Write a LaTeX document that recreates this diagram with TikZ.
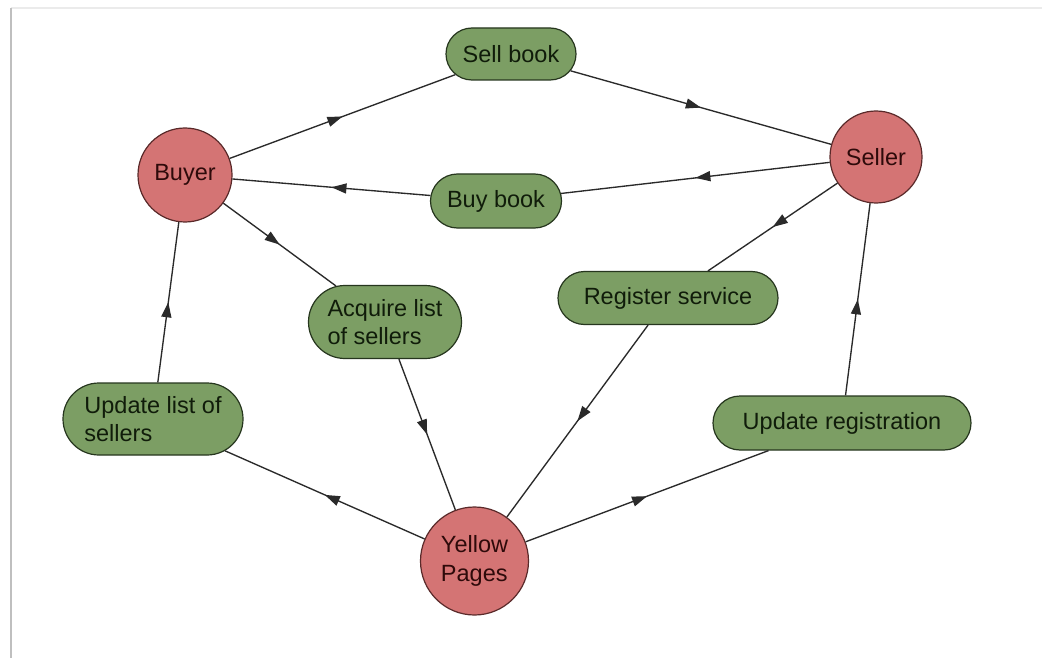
\documentclass[tikz,border=0pt]{standalone}
\usepackage{fontspec}
\setmainfont{Liberation Sans}
\usetikzlibrary{shapes.misc,decorations.markings,arrows.meta}
\definecolor{circfill}{HTML}{D47474}
\definecolor{circline}{HTML}{5A2A2A}
\definecolor{circtext}{HTML}{2E0A0A}
\definecolor{boxfill}{HTML}{7C9E64}
\definecolor{boxline}{HTML}{26361E}
\definecolor{boxtext}{HTML}{101C0A}
\definecolor{edgecol}{HTML}{2A2A2A}
\tikzset{
  actor/.style={circle, draw=circline, fill=circfill, line width=1.2pt, text=circtext,
    inner sep=0pt, align=left, font=\fontsize{23.5}{28.5}\selectfont},
  task/.style={rounded rectangle, draw=boxline, fill=boxfill, line width=1.2pt, text=boxtext,
    inner sep=0pt, align=left, font=\fontsize{23.5}{28.5}\selectfont},
  flow/.style={draw=edgecol, line width=1.35pt, postaction={decorate},
    decoration={markings, mark=at position 0.5 with {\arrow{Triangle[length=15pt,width=10pt]}}}},
  frameline/.style={line width=2.5pt}
}
\begin{document}
\begin{tikzpicture}[x=1pt,y=-1pt]
\useasboundingbox (0,0) rectangle (1042,658);
\fill[white] (0,0) rectangle (1042,658);
\coordinate (ftl) at (11,8);
\coordinate (ftr) at (1042,8);
\coordinate (fbl) at (11,658);
\draw[frameline, black!8] (ftl) -- (ftr);
\draw[frameline, black!25] (ftl) -- (fbl);

\node[actor, minimum size=94pt] (buyer) at (185,175) {Buyer};
\node[actor, minimum size=92pt] (seller) at (876,157) {Seller};
\node[actor, minimum size=108pt] (yp) at (474.5,561) {Yellow\\Pages};

\node[task, minimum width=130pt, minimum height=52pt] (sell) at (511,54) {Sell book};
\node[task, minimum width=131pt, minimum height=54pt] (buy) at (496,201) {Buy book};
\node[task, minimum width=220pt, minimum height=53pt] (reg) at (668,298) {Register service};
\node[task, minimum width=153pt, minimum height=73pt] (acq) at (385,322) {Acquire list\\of sellers};
\node[task, minimum width=180pt, minimum height=72pt] (upl) at (153,419) {Update list of\\sellers};
\node[task, minimum width=258pt, minimum height=54pt] (upr) at (842,423) {Update registration};

\draw[flow] (buyer) -- (sell);
\draw[flow] (sell) -- (seller);
\draw[flow] (seller) -- (buy);
\draw[flow] (buy) -- (buyer);
\draw[flow] (buyer) -- (acq);
\draw[flow] (acq) -- (yp);
\draw[flow] (seller) -- (reg);
\draw[flow] (reg) -- (yp);
\draw[flow] (yp) -- (upr);
\draw[flow] (upr) -- (seller);
\draw[flow] (yp) -- (upl);
\draw[flow] (upl) -- (buyer);
\end{tikzpicture}
\end{document}
